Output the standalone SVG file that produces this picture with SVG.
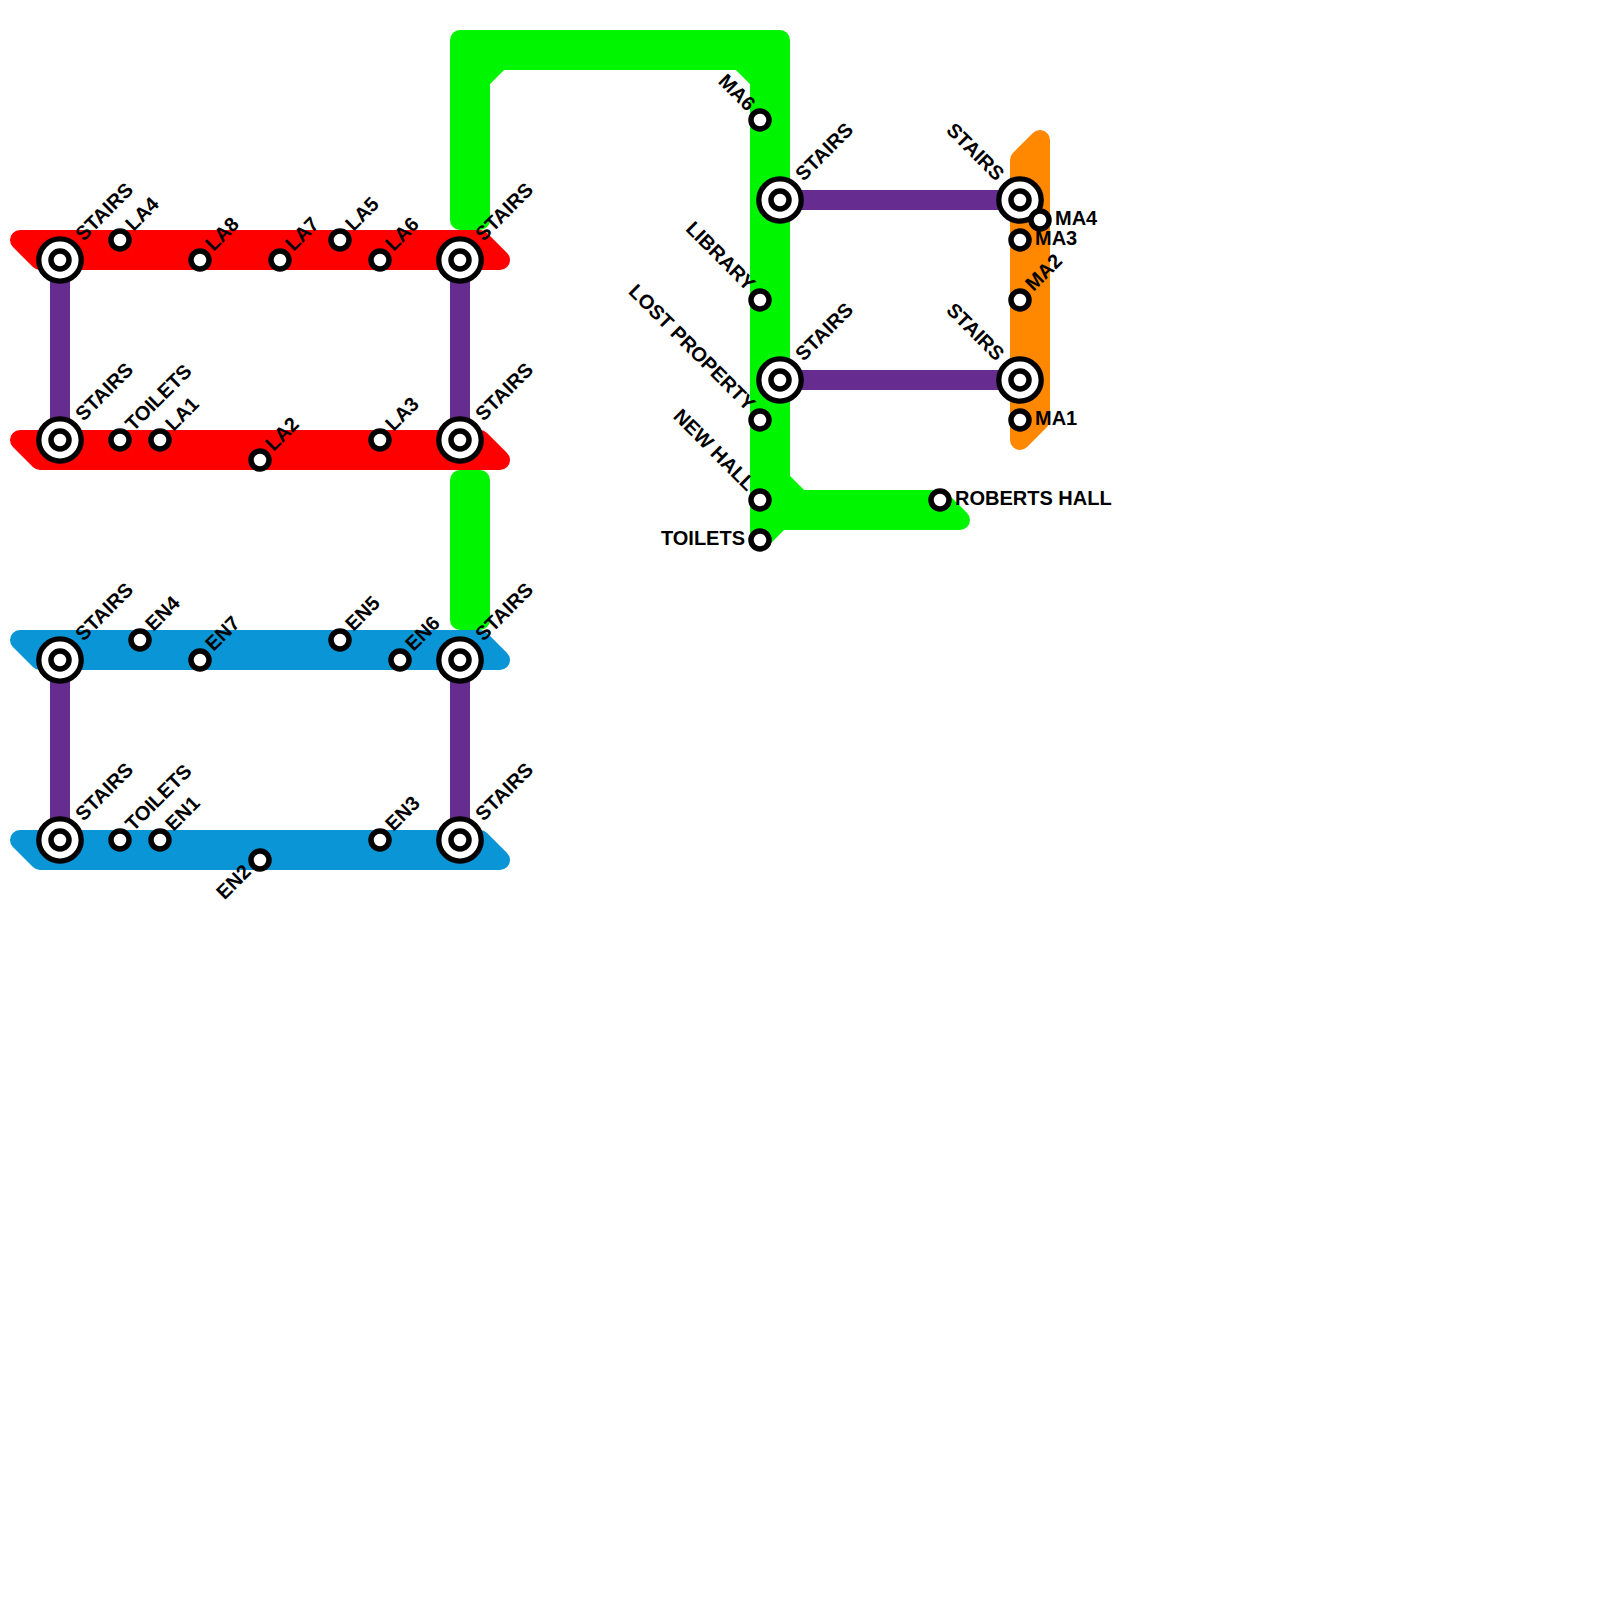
<svg xmlns="http://www.w3.org/2000/svg" width="1600" height="1600" viewBox="0 0 1600 1600">
<style>
text{font-family:"Liberation Sans",Arial,sans-serif;font-weight:700;font-size:20px;fill:#000}
.e{text-anchor:end}
.l{stroke-width:20;stroke-linejoin:round}
.r{fill:#f00;stroke:#f00}.b{fill:#0a96d6;stroke:#0a96d6}.g{fill:#00f600;stroke:#00f600}.o{fill:#ff8800;stroke:#ff8800}
.p{fill:none;stroke:#662c90;stroke-width:20}
.s{fill:#fff;stroke:#000;stroke-width:5.5}
.i{fill:#fff;stroke:#000;stroke-width:5.3}
</style>
<defs>
<g id="st"><circle class="s" r="9"/></g>
<g id="ic"><circle class="i" r="21.2"/><circle class="s" r="9"/></g>
</defs>
<g id="connectors">
<polygon class="l r" points="20,240 480,240 500,260 40,260"/>
<polygon class="l r" points="20,440 480,440 500,460 40,460"/>
<polygon class="l b" points="20,640 480,640 500,660 40,660"/>
<polygon class="l b" points="20,840 480,840 500,860 40,860"/>
<polygon class="l g" points="460,40 780,40 780,480 800,500 940,500 960,520 780,520 760,540 760,80 740,60 500,60 480,80 480,220 460,220"/>
<polygon class="l g" points="460,480 480,480 480,620 460,620"/>
<polygon class="l o" points="1020,160 1040,140 1040,420 1020,440"/>
<path class="p" d="M60,260V440M460,260V440M60,660V840M460,660V840M780,200H1020M780,380H1020"/>
</g>
<g id="n-la-stairs-1"><use href="#ic" x="60" y="260"/><text transform="translate(83.5,242) rotate(-45)">STAIRS</text></g>
<g id="n-la4"><use href="#st" x="120" y="240"/><text transform="translate(133.5,232) rotate(-45)">LA4</text></g>
<g id="n-la8"><use href="#st" x="200" y="260"/><text transform="translate(213.5,252) rotate(-45)">LA8</text></g>
<g id="n-la7"><use href="#st" x="280" y="260"/><text transform="translate(293.5,252) rotate(-45)">LA7</text></g>
<g id="n-la5"><use href="#st" x="340" y="240"/><text transform="translate(353.5,232) rotate(-45)">LA5</text></g>
<g id="n-la6"><use href="#st" x="380" y="260"/><text transform="translate(393.5,252) rotate(-45)">LA6</text></g>
<g id="n-la-stairs-2"><use href="#ic" x="460" y="260"/><text transform="translate(483.5,242) rotate(-45)">STAIRS</text></g>
<g id="n-la-stairs-3"><use href="#ic" x="60" y="440"/><text transform="translate(83.5,422) rotate(-45)">STAIRS</text></g>
<g id="n-la-toilets"><use href="#st" x="120" y="440"/><text transform="translate(133.5,432) rotate(-45)">TOILETS</text></g>
<g id="n-la1"><use href="#st" x="160" y="440"/><text transform="translate(173.5,432) rotate(-45)">LA1</text></g>
<g id="n-la2"><use href="#st" x="260" y="460"/><text transform="translate(273.5,452) rotate(-45)">LA2</text></g>
<g id="n-la3"><use href="#st" x="380" y="440"/><text transform="translate(393.5,432) rotate(-45)">LA3</text></g>
<g id="n-la-stairs-4"><use href="#ic" x="460" y="440"/><text transform="translate(483.5,422) rotate(-45)">STAIRS</text></g>
<g id="n-en-stairs-1"><use href="#ic" x="60" y="660"/><text transform="translate(83.5,642) rotate(-45)">STAIRS</text></g>
<g id="n-en4"><use href="#st" x="140" y="640"/><text transform="translate(153.5,632) rotate(-45)">EN4</text></g>
<g id="n-en7"><use href="#st" x="200" y="660"/><text transform="translate(213.5,652) rotate(-45)">EN7</text></g>
<g id="n-en5"><use href="#st" x="340" y="640"/><text transform="translate(353.5,632) rotate(-45)">EN5</text></g>
<g id="n-en6"><use href="#st" x="400" y="660"/><text transform="translate(413.5,652) rotate(-45)">EN6</text></g>
<g id="n-en-stairs-2"><use href="#ic" x="460" y="660"/><text transform="translate(483.5,642) rotate(-45)">STAIRS</text></g>
<g id="n-en-stairs-3"><use href="#ic" x="60" y="840"/><text transform="translate(83.5,822) rotate(-45)">STAIRS</text></g>
<g id="n-en-toilets"><use href="#st" x="120" y="840"/><text transform="translate(133.5,832) rotate(-45)">TOILETS</text></g>
<g id="n-en1"><use href="#st" x="160" y="840"/><text transform="translate(173.5,832) rotate(-45)">EN1</text></g>
<g id="n-en2"><use href="#st" x="260" y="860"/><text class="e" transform="translate(252,873) rotate(-45)">EN2</text></g>
<g id="n-en3"><use href="#st" x="380" y="840"/><text transform="translate(393.5,832) rotate(-45)">EN3</text></g>
<g id="n-en-stairs-4"><use href="#ic" x="460" y="840"/><text transform="translate(483.5,822) rotate(-45)">STAIRS</text></g>
<g id="n-ma6"><use href="#st" x="760" y="120"/><text class="e" transform="translate(747,112) rotate(45)">MA6</text></g>
<g id="n-ma-stairs-1"><use href="#ic" x="780" y="200"/><text transform="translate(803.5,182) rotate(-45)">STAIRS</text></g>
<g id="n-library"><use href="#st" x="760" y="300"/><text class="e" transform="translate(747,292) rotate(45)">LIBRARY</text></g>
<g id="n-ma-stairs-2"><use href="#ic" x="780" y="380"/><text transform="translate(803.5,362) rotate(-45)">STAIRS</text></g>
<g id="n-lost"><use href="#st" x="760" y="420"/><text class="e" transform="translate(747,412) rotate(45)">LOST PROPERTY</text></g>
<g id="n-newhall"><use href="#st" x="760" y="500"/><text class="e" transform="translate(747,492) rotate(45)">NEW HALL</text></g>
<g id="n-toilets"><use href="#st" x="760" y="540"/><text class="e" x="745" y="545">TOILETS</text></g>
<g id="n-roberts"><use href="#st" x="940" y="500"/><text x="955" y="505">ROBERTS HALL</text></g>
<g id="n-ma-stairs-3"><use href="#ic" x="1020" y="200"/><text class="e" transform="translate(996,182) rotate(45)">STAIRS</text></g>
<g id="n-ma4"><use href="#st" x="1040" y="220"/><text x="1055" y="225">MA4</text></g>
<g id="n-ma3"><use href="#st" x="1020" y="240"/><text x="1035" y="245">MA3</text></g>
<g id="n-ma2"><use href="#st" x="1020" y="300"/><text transform="translate(1033.5,292) rotate(-45)">MA2</text></g>
<g id="n-ma-stairs-4"><use href="#ic" x="1020" y="380"/><text class="e" transform="translate(996,362) rotate(45)">STAIRS</text></g>
<g id="n-ma1"><use href="#st" x="1020" y="420"/><text x="1035" y="425">MA1</text></g>
</svg>
